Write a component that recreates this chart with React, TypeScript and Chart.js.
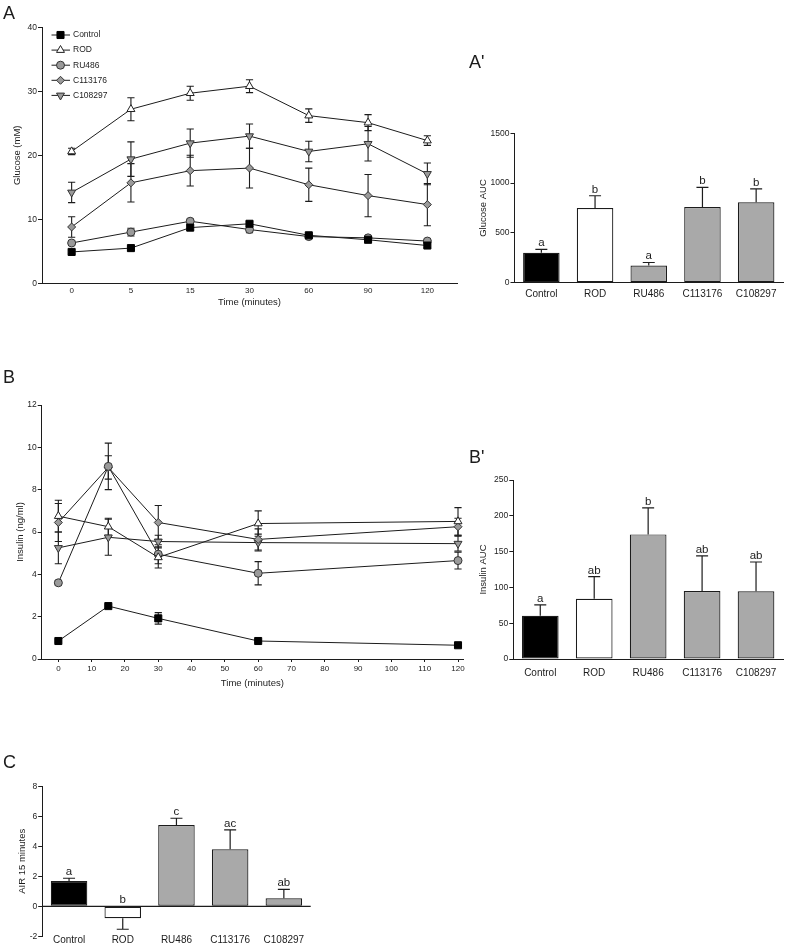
import React, { useEffect, useRef } from 'react';
import { Chart, registerables } from 'chart.js';

Chart.register(...registerables);

const FONT = "'Liberation Sans', Arial, Helvetica, sans-serif";
const INK = '#1c1c1c';
const GRAY_MARK = '#9a9a9a';
const GRAY_BAR = '#a9a9a9';

// ---------------- data ----------------
const groups = ['Control', 'ROD', 'RU486', 'C113176', 'C108297'];

// Panel A: glucose over time (category time axis)
const glucoseTimes = ['0', '5', '15', '30', '60', '90', '120'];
const glucoseControl = [4.9, 5.5, 8.7, 9.3, 7.5, 6.8, 5.9];
const glucoseControlErr = [0.3, 0.3, 0.4, 0.4, 0.3, 0.3, 0.3];
const glucoseROD = [20.6, 27.2, 29.7, 30.8, 26.2, 25.1, 22.3];
const glucoseRODErr = [0.5, 1.8, 1.1, 1.0, 1.05, 1.25, 0.75];
const glucoseRU486 = [6.3, 8.0, 9.7, 8.4, 7.3, 7.1, 6.6];
const glucoseRU486Err = [0.2, 0.6, 0.3, 0.5, 0.3, 0.3, 0.2];
const glucoseC113176 = [8.8, 15.7, 17.6, 18.0, 15.4, 13.7, 12.3];
const glucoseC113176Err = [1.6, 3.0, 2.4, 3.1, 2.6, 3.3, 3.3];
const glucoseC108297 = [14.2, 19.4, 21.9, 23.0, 20.6, 21.8, 17.1];
const glucoseC108297Err = [1.6, 2.7, 2.2, 1.9, 1.6, 2.7, 1.7];

// Panel A': glucose AUC
const glucoseAUC = [300, 750, 173, 760, 807];
const glucoseAUCErr = [35, 123, 30, 197, 136];
const glucoseAUCLetters = ['a', 'b', 'a', 'b', 'b'];

// Panel B: insulin over time (linear time axis)
const insulinTimes = [0, 15, 30, 60, 120];
const insulinTimeTicks = [0, 10, 20, 30, 40, 50, 60, 70, 80, 90, 100, 110, 120];
const insulinControl = [0.85, 2.5, 1.92, 0.85, 0.65];
const insulinControlErr = [0.05, 0.05, 0.27, 0.05, 0.05];
const insulinROD = [6.75, 6.25, 4.8, 6.4, 6.5];
const insulinRODErr = [0.75, 0.4, 0.5, 0.6, 0.65];
const insulinRU486 = [3.6, 9.1, 4.95, 4.05, 4.65];
const insulinRU486Err = [0.1, 1.1, 0.45, 0.55, 0.4];
const insulinC113176 = [6.45, 9.05, 6.45, 5.65, 6.25];
const insulinC113176Err = [0.9, 0.55, 0.8, 0.5, 0.4];
const insulinC108297 = [5.25, 5.75, 5.55, 5.5, 5.45];
const insulinC108297Err = [0.75, 0.85, 0.3, 0.4, 0.35];

// Panel B': insulin AUC
const insulinAUC = [60.5, 84, 174, 95, 94.5];
const insulinAUCErr = [15, 31, 37, 49, 41];
const insulinAUCLetters = ['a', 'ab', 'b', 'ab', 'ab'];

// Panel C: AIR 15 minutes
const air15 = [1.69, -0.8, 5.42, 3.8, 0.53];
const air15Err = [0.18, 0.73, 0.45, 1.29, 0.6];
const air15Letters = ['a', 'b', 'c', 'ac', 'ab'];

// ---------------- styles ----------------
const markerStyles = [
  { style: 'rect', radius: 5, rotation: 0, fill: '#000', stroke: '#000' },
  { style: 'triangle', radius: 4.6, rotation: 0, fill: '#fff', stroke: '#222' },
  { style: 'circle', radius: 4, rotation: 0, fill: GRAY_MARK, stroke: '#333' },
  { style: 'rectRot', radius: 4, rotation: 0, fill: GRAY_MARK, stroke: '#333' },
  { style: 'triangle', radius: 4.6, rotation: 180, fill: GRAY_MARK, stroke: '#333' },
];
const barFills = ['#000000', '#ffffff', GRAY_BAR, GRAY_BAR, GRAY_BAR];

function drawMarker(ctx: CanvasRenderingContext2D, m: any, x: number, y: number) {
  const r = m.radius;
  ctx.save();
  ctx.beginPath();
  if (m.style === 'rect') {
    const s = r * Math.SQRT1_2;
    ctx.rect(x - s, y - s, 2 * s, 2 * s);
  } else if (m.style === 'circle') {
    ctx.arc(x, y, r, 0, Math.PI * 2);
  } else if (m.style === 'rectRot') {
    ctx.moveTo(x - r, y);
    ctx.lineTo(x, y - r);
    ctx.lineTo(x + r, y);
    ctx.lineTo(x, y + r);
    ctx.closePath();
  } else {
    let a = (m.rotation * Math.PI) / 180;
    ctx.moveTo(x + Math.sin(a) * r, y - Math.cos(a) * r);
    a += (2 * Math.PI) / 3;
    ctx.lineTo(x + Math.sin(a) * r, y - Math.cos(a) * r);
    a += (2 * Math.PI) / 3;
    ctx.lineTo(x + Math.sin(a) * r, y - Math.cos(a) * r);
    ctx.closePath();
  }
  ctx.fillStyle = m.fill;
  ctx.fill();
  ctx.strokeStyle = m.stroke;
  ctx.lineWidth = 1;
  ctx.stroke();
  ctx.restore();
}

// ---------------- plugins ----------------
const lineErrorPlugin = {
  id: 'lineErr',
  beforeDatasetsDraw(chart: any) {
    const ctx = chart.ctx;
    const ys = chart.scales.y;
    ctx.save();
    ctx.strokeStyle = INK;
    ctx.lineWidth = 1.1;
    chart.data.datasets.forEach((ds: any, i: number) => {
      const meta = chart.getDatasetMeta(i);
      meta.data.forEach((pt: any, j: number) => {
        const raw = ds.data[j];
        const v = typeof raw === 'number' ? raw : raw.y;
        const e = ds.errors[j];
        const yt = ys.getPixelForValue(v + e);
        const yb = ys.getPixelForValue(v - e);
        const x = pt.x;
        const cap = 3.6;
        ctx.beginPath();
        ctx.moveTo(x, yt);
        ctx.lineTo(x, yb);
        ctx.moveTo(x - cap, yt);
        ctx.lineTo(x + cap, yt);
        ctx.moveTo(x - cap, yb);
        ctx.lineTo(x + cap, yb);
        ctx.stroke();
      });
    });
    ctx.restore();
  },
};

const insideLegendPlugin = {
  id: 'insideLegend',
  afterDraw(chart: any) {
    const { ctx, chartArea } = chart;
    ctx.save();
    chart.data.datasets.forEach((ds: any, i: number) => {
      const y = chartArea.top + 7.7 + i * 15.1;
      ctx.strokeStyle = INK;
      ctx.lineWidth = 1;
      ctx.beginPath();
      ctx.moveTo(chartArea.left + 9.5, y);
      ctx.lineTo(chartArea.left + 28, y);
      ctx.stroke();
      drawMarker(ctx, markerStyles[i], chartArea.left + 18.5, y);
      ctx.fillStyle = INK;
      ctx.font = `8.5px ${FONT}`;
      ctx.textAlign = 'left';
      ctx.textBaseline = 'middle';
      ctx.fillText(ds.label, chartArea.left + 31, y);
    });
    ctx.restore();
  },
};

const barExtrasPlugin = {
  id: 'barExtras',
  afterDatasetsDraw(chart: any, _args: any, opts: any) {
    const { ctx, chartArea } = chart;
    const ys = chart.scales.y;
    const ds = chart.data.datasets[0];
    const meta = chart.getDatasetMeta(0);
    ctx.save();
    ctx.strokeStyle = INK;
    if (opts && opts.zeroLine) {
      const y0 = ys.getPixelForValue(0);
      ctx.lineWidth = 1.2;
      ctx.beginPath();
      ctx.moveTo(chartArea.left, y0);
      ctx.lineTo(chartArea.right, y0);
      ctx.stroke();
    }
    ctx.lineWidth = 1.2;
    meta.data.forEach((bar: any, j: number) => {
      const v = ds.data[j];
      const e = ds.errors[j];
      const sign = v >= 0 ? 1 : -1;
      const yEnd = ys.getPixelForValue(v + sign * e);
      const cap = 6;
      ctx.beginPath();
      ctx.moveTo(bar.x, bar.y);
      ctx.lineTo(bar.x, yEnd);
      ctx.moveTo(bar.x - cap, yEnd);
      ctx.lineTo(bar.x + cap, yEnd);
      ctx.stroke();
      const ref = v >= 0 ? yEnd : ys.getPixelForValue(0);
      ctx.fillStyle = INK;
      ctx.font = `11.5px ${FONT}`;
      ctx.textAlign = 'center';
      ctx.textBaseline = 'alphabetic';
      ctx.fillText(ds.letters[j], bar.x, ref - 3);
    });
    ctx.restore();
  },
};

// ---------------- helpers ----------------
function yAxis(min: number, max: number, step: number, title: string, width: number, titlePad: number) {
  return {
    min,
    max,
    ticks: {
      stepSize: step,
      font: { family: FONT, size: 8.5 },
      color: INK,
      padding: 1,
      callback: (value: any) => String(value),
    },
    grid: { display: true, drawOnChartArea: false, drawTicks: true, tickLength: 4, color: INK, lineWidth: 1 },
    border: { display: true, color: INK, width: 1 },
    title: {
      display: true,
      text: title,
      font: { family: FONT, size: 9.5 },
      color: INK,
      padding: { top: titlePad, bottom: 0 },
    },
    afterFit: (s: any) => {
      s.width = width;
    },
  };
}

function lineDatasets(values: number[][], errors: number[][], xs?: number[]) {
  return groups.map((g, i) => {
    const m = markerStyles[i];
    return {
      label: g,
      data: xs ? values[i].map((v, j) => ({ x: xs[j], y: v })) : values[i],
      errors: errors[i],
      borderColor: INK,
      borderWidth: 1,
      tension: 0,
      fill: false,
      pointStyle: m.style,
      pointRadius: m.radius,
      pointRotation: m.rotation,
      pointBackgroundColor: m.fill,
      pointBorderColor: m.stroke,
      pointBorderWidth: 1,
      backgroundColor: m.fill,
    };
  });
}

const baseOptions = {
  animation: false,
  responsive: false,
  maintainAspectRatio: false,
  devicePixelRatio: 1,
  events: [],
};

function glucoseLineConfig(): any {
  return {
    type: 'line',
    data: {
      labels: glucoseTimes,
      datasets: lineDatasets(
        [glucoseControl, glucoseROD, glucoseRU486, glucoseC113176, glucoseC108297],
        [glucoseControlErr, glucoseRODErr, glucoseRU486Err, glucoseC113176Err, glucoseC108297Err]
      ),
    },
    options: {
      ...baseOptions,
      layout: { padding: { top: 27.3, right: 18, left: 0, bottom: 0 } },
      plugins: { legend: { display: false }, tooltip: { enabled: false } },
      scales: {
        x: {
          type: 'category',
          offset: true,
          grid: { display: false, drawTicks: false },
          border: { display: true, color: INK, width: 1 },
          ticks: { font: { family: FONT, size: 8 }, color: INK, padding: 3 },
          title: {
            display: true,
            text: 'Time (minutes)',
            font: { family: FONT, size: 9.5 },
            color: INK,
            padding: { top: 0, bottom: 4.3 },
          },
          afterFit: (s: any) => {
            s.height = 28.7;
          },
        },
        y: yAxis(0, 40, 10, 'Glucose (mM)', 42, 11.3),
      },
    },
    plugins: [lineErrorPlugin, insideLegendPlugin],
  };
}

function insulinLineConfig(): any {
  return {
    type: 'line',
    data: {
      datasets: lineDatasets(
        [insulinControl, insulinROD, insulinRU486, insulinC113176, insulinC108297],
        [insulinControlErr, insulinRODErr, insulinRU486Err, insulinC113176Err, insulinC108297Err],
        insulinTimes
      ),
    },
    options: {
      ...baseOptions,
      layout: { padding: { top: 15, right: 12, left: 0, bottom: 0 } },
      plugins: { legend: { display: false }, tooltip: { enabled: false } },
      scales: {
        x: {
          type: 'linear',
          min: -5,
          max: 121.5,
          afterBuildTicks: (s: any) => {
            s.ticks = insulinTimeTicks.map((v) => ({ value: v }));
          },
          grid: { display: true, drawOnChartArea: false, drawTicks: true, tickLength: 3, color: INK },
          border: { display: true, color: INK, width: 1 },
          ticks: { font: { family: FONT, size: 8 }, color: INK, padding: 1.5 },
          title: {
            display: true,
            text: 'Time (minutes)',
            font: { family: FONT, size: 9.5 },
            color: INK,
            padding: { top: 0, bottom: 11 },
          },
          afterFit: (s: any) => {
            s.height = 41;
          },
        },
        y: yAxis(0, 12, 2, 'Insulin (ng/ml)', 41.7, 14.3),
      },
    },
    plugins: [lineErrorPlugin],
  };
}

function barConfig(p: {
  values: number[];
  errors: number[];
  letters: string[];
  min: number;
  max: number;
  step: number;
  title: string;
  yWidth: number;
  titlePad: number;
  padTop: number;
  padRight: number;
  xHeight: number;
  labelPad: number;
  zeroLine: boolean;
}): any {
  return {
    type: 'bar',
    data: {
      labels: groups,
      datasets: [
        {
          data: p.values,
          errors: p.errors,
          letters: p.letters,
          backgroundColor: barFills,
          borderColor: INK,
          borderWidth: 1.2,
          borderSkipped: false,
          barPercentage: 0.68,
          categoryPercentage: 1,
        },
      ],
    },
    options: {
      ...baseOptions,
      layout: { padding: { top: p.padTop, right: p.padRight, left: 0, bottom: 0 } },
      plugins: {
        legend: { display: false },
        tooltip: { enabled: false },
        barExtras: { zeroLine: p.zeroLine },
      },
      scales: {
        x: {
          type: 'category',
          offset: true,
          grid: { display: false, drawTicks: false },
          border: { display: !p.zeroLine, color: INK, width: 1 },
          ticks: { font: { family: FONT, size: 10 }, color: INK, padding: p.labelPad, autoSkip: false, maxRotation: 0 },
          afterFit: (s: any) => {
            s.height = p.xHeight;
            // let the category labels extend slightly above the axis box without clipping
            s._computeLabelArea = () => undefined;
          },
        },
        y: yAxis(p.min, p.max, p.step, p.title, p.yWidth, p.titlePad),
      },
    },
    plugins: [barExtrasPlugin],
  };
}

// ---------------- components ----------------
function ChartCanvas(props: { left: number; top: number; width: number; height: number; make: () => any }) {
  const ref = useRef<HTMLCanvasElement | null>(null);
  useEffect(() => {
    if (!ref.current) return;
    const chart = new Chart(ref.current, props.make());
    return () => chart.destroy();
  }, []);
  return (
    <canvas
      ref={ref}
      width={props.width}
      height={props.height}
      style={{ position: 'absolute', left: props.left, top: props.top, width: props.width, height: props.height }}
    />
  );
}

function PanelLabel(props: { text: string; left: number; top: number }) {
  return (
    <div
      style={{
        position: 'absolute',
        left: props.left,
        top: props.top,
        fontFamily: FONT,
        fontSize: 18,
        lineHeight: '18px',
        color: INK,
        whiteSpace: 'nowrap',
      }}
    >
      {props.text}
    </div>
  );
}

export default function App() {
  return (
    <div style={{ position: 'absolute', left: 0, top: 0, width: 787, height: 948, background: '#fff', overflow: 'hidden' }}>
      <ChartCanvas left={0} top={0} width={475} height={312} make={glucoseLineConfig} />
      <ChartCanvas
        left={470}
        top={110}
        width={317}
        height={200}
        make={() =>
          barConfig({
            values: glucoseAUC,
            errors: glucoseAUCErr,
            letters: glucoseAUCLetters,
            min: 0,
            max: 1500,
            step: 500,
            title: 'Glucose AUC',
            yWidth: 44.5,
            titlePad: 7.3,
            padTop: 23.3,
            padRight: 4,
            xHeight: 27.3,
            labelPad: 6,
            zeroLine: false,
          })
        }
      />
      <ChartCanvas left={0} top={390} width={475} height={310} make={insulinLineConfig} />
      <ChartCanvas
        left={470}
        top={440}
        width={317}
        height={260}
        make={() =>
          barConfig({
            values: insulinAUC,
            errors: insulinAUCErr,
            letters: insulinAUCLetters,
            min: 0,
            max: 250,
            step: 50,
            title: 'Insulin AUC',
            yWidth: 43.3,
            titlePad: 7.3,
            padTop: 40,
            padRight: 4,
            xHeight: 41,
            labelPad: 8.3,
            zeroLine: false,
          })
        }
      />
      <ChartCanvas
        left={0}
        top={740}
        width={320}
        height={208}
        make={() =>
          barConfig({
            values: air15,
            errors: air15Err,
            letters: air15Letters,
            min: -2,
            max: 8,
            step: 2,
            title: 'AIR 15 minutes',
            yWidth: 42.2,
            titlePad: 17,
            padTop: 46.3,
            padRight: 9.3,
            xHeight: 11.7,
            labelPad: -2,
            zeroLine: true,
          })
        }
      />
      <PanelLabel text="A" left={3} top={4.3} />
      <PanelLabel text="A'" left={469} top={52.6} />
      <PanelLabel text="B" left={3} top={367.6} />
      <PanelLabel text="B'" left={469} top={447.6} />
      <PanelLabel text="C" left={3} top={752.6} />
    </div>
  );
}
